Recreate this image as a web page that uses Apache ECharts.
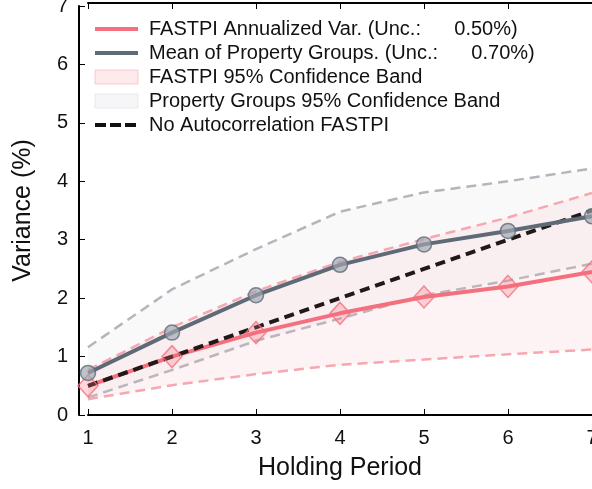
<!DOCTYPE html>
<html>
<head>
<meta charset="utf-8">
<script src="https://cdn.jsdelivr.net/npm/echarts@6/dist/echarts.min.js"></script>
<style>
  html, body { margin: 0; padding: 0; background: #fff; }
  #chart { width: 592px; height: 489px; }
</style>
</head>
<body>
<div id="chart"></div>
<script>
    'use strict';

    // holding periods (x axis)
    var periods = ['1', '2', '3', '4', '5', '6', '7'];
    // variance values (%)
    var fastpiVar = [0.50, 1.00, 1.41, 1.74, 2.02, 2.20, 2.45];
    var groupMean = [0.72, 1.41, 2.05, 2.57, 2.92, 3.15, 3.40];
    var noAutocorr = [0.50, 1.00, 1.50, 2.00, 2.50, 3.00, 3.50];
    // confidence bands
    var fastpiLow = [0.27, 0.51, 0.70, 0.86, 0.95, 1.04, 1.12];
    var fastpiHigh = [0.77, 1.50, 2.12, 2.62, 3.01, 3.38, 3.80];
    var groupLow = [0.30, 0.77, 1.27, 1.65, 2.05, 2.30, 2.59];
    var groupHigh = [1.16, 2.15, 2.84, 3.48, 3.81, 4.00, 4.22];

    var names = [
        'FASTPI Annualized Var. (Unc.:      0.50%)',
        'Mean of Property Groups. (Unc.:      0.70%)',
        'FASTPI 95% Confidence Band',
        'Property Groups 95% Confidence Band',
        'No Autocorrelation FASTPI'
    ];

    var PINK = '#f4707f', GREY = '#5e6b77';
    var FONT = 'Liberation Sans, Arial, sans-serif';
    var NO_DOT = { color: 'rgba(0,0,0,0)', borderColor: 'rgba(0,0,0,0)', borderWidth: 0 };

    function diff(hi, lo) {
        return hi.map(function (v, i) { return +(v - lo[i]).toFixed(3); });
    }

    var chart = echarts.init(document.getElementById('chart'));

    var option = {
        animation: false,
        textStyle: { fontFamily: FONT },
        grid: { left: 88, right: 0, top: 6, bottom: 74, containLabel: false, outerBoundsMode: 'none' },
        legend: {
            left: 88, top: 14, orient: 'vertical',
            itemWidth: 43, itemHeight: 14, itemGap: 4,
            selectedMode: false,
            textStyle: { fontSize: 20, color: '#111', fontFamily: FONT, padding: [0, 0, 0, 6] },
            data: [
                { name: names[0], itemStyle: NO_DOT, lineStyle: { color: PINK, width: 4 } },
                { name: names[1], itemStyle: NO_DOT, lineStyle: { color: GREY, width: 4 } },
                { name: names[2], icon: 'rect', itemStyle: { color: 'rgba(247,180,188,0.28)', borderColor: 'rgba(247,160,170,0.5)', borderWidth: 1 } },
                { name: names[3], icon: 'rect', itemStyle: { color: 'rgba(225,225,232,0.3)', borderColor: 'rgba(215,215,222,0.5)', borderWidth: 1 } },
                { name: names[4], itemStyle: NO_DOT, lineStyle: { color: '#111', width: 4, type: [11, 4] } }
            ]
        },
        xAxis: [{
            type: 'category', data: periods, boundaryGap: false, offset: 4,
            name: 'Holding Period', nameLocation: 'middle', nameGap: 37,
            nameTextStyle: { fontSize: 25, color: '#111', fontFamily: FONT },
            axisLine: { lineStyle: { color: '#000', width: 2 } },
            axisTick: { inside: true, length: 6, lineStyle: { color: '#000', width: 1 } },
            axisLabel: { fontSize: 20, color: '#111', margin: 9 },
            splitLine: { show: false }
        }, {
            type: 'category', data: periods, boundaryGap: false, position: 'top', offset: 3,
            axisLine: { lineStyle: { color: '#000', width: 2 } },
            axisTick: { inside: true, length: 6, lineStyle: { color: '#000', width: 1 } },
            axisLabel: { show: false },
            splitLine: { show: false }
        }],
        yAxis: {
            type: 'value', min: 0, max: 7, interval: 1, offset: 9,
            name: 'Variance (%)', nameLocation: 'middle', nameGap: 43,
            nameTextStyle: { fontSize: 25, color: '#111', fontFamily: FONT },
            axisLine: { show: true, lineStyle: { color: '#000', width: 2 } },
            axisTick: { show: true, inside: true, length: 6, lineStyle: { color: '#000', width: 1 } },
            axisLabel: { fontSize: 20, color: '#111', margin: 11 },
            splitLine: { show: false }
        },
        series: [
            // property groups band
            {
                name: 'gLow', type: 'line', stack: 'g', data: groupLow, symbol: 'none', clip: false,
                lineStyle: { color: '#b3b6bd', width: 2.5, type: [10, 6] }, z: 1
            },
            {
                name: names[3], type: 'line', stack: 'g', data: diff(groupHigh, groupLow), symbol: 'none', clip: false,
                lineStyle: { color: '#b3b6bd', width: 2.5, type: [10, 6] },
                areaStyle: { color: 'rgba(225,225,232,0.28)' }, z: 1
            },
            // fastpi band
            {
                name: 'fLow', type: 'line', stack: 'f', data: fastpiLow, symbol: 'none', clip: false,
                lineStyle: { color: '#f7a7b0', width: 2.5, type: [10, 6] }, z: 2
            },
            {
                name: names[2], type: 'line', stack: 'f', data: diff(fastpiHigh, fastpiLow), symbol: 'none', clip: false,
                lineStyle: { color: '#f7a7b0', width: 2.5, type: [10, 6] },
                areaStyle: { color: 'rgba(247,175,185,0.22)' }, z: 2
            },
            {
                name: names[0], type: 'line', data: fastpiVar, symbol: 'none', clip: false,
                lineStyle: { color: PINK, width: 4 }, itemStyle: { color: PINK }, z: 3
            },
            {
                name: names[4], type: 'line', data: noAutocorr, symbol: 'none', clip: false,
                lineStyle: { color: '#221818', width: 4, type: [10, 6] }, itemStyle: { color: '#221818' }, z: 4
            },
            {
                name: names[1], type: 'line', data: groupMean, symbol: 'none', clip: false,
                lineStyle: { color: GREY, width: 4 }, itemStyle: { color: GREY }, z: 5
            },
            // markers
            {
                type: 'scatter', data: fastpiVar, symbol: 'diamond', symbolSize: [20, 22], clip: false,
                itemStyle: { color: 'rgba(244,112,127,0.35)', borderColor: PINK, borderWidth: 1.5 }, z: 6
            },
            {
                type: 'scatter', data: groupMean, symbol: 'circle', symbolSize: 15, clip: false,
                itemStyle: { color: 'rgba(160,166,176,0.85)', borderColor: GREY, borderWidth: 1.5 }, z: 6
            }
        ]
    };

    chart.setOption(option);
</script>
</body>
</html>
